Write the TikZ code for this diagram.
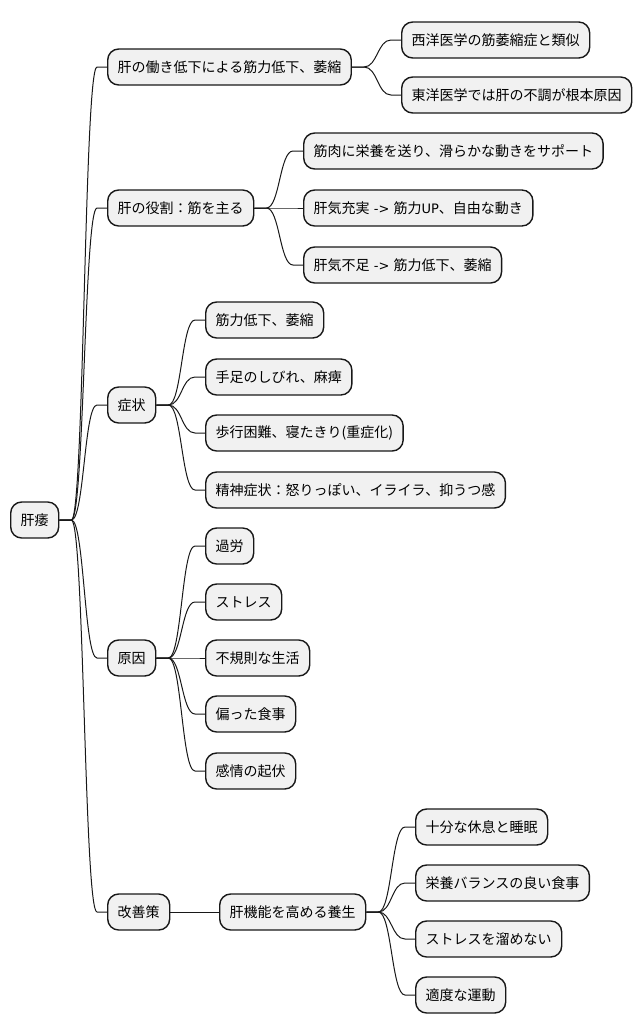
\documentclass[tikz,border=0pt]{standalone}
\usepackage{fontspec}
\setmainfont{Noto Sans CJK JP}
\newfontfamily\lat{DejaVu Sans}
\usetikzlibrary{calc}
\definecolor{boxfill}{HTML}{F1F1F1}
\definecolor{boxline}{HTML}{181818}
\tikzset{
  mm/.style={draw=boxline, fill=boxfill, line width=1.4pt, rounded corners=11pt,
    minimum height=36pt, inner xsep=10pt, inner ysep=0pt, anchor=west,
    font=\fontsize{14pt}{16pt}\selectfont, text=black},
  conn/.style={draw=boxline, line width=1pt}
}
\newcommand\mmconn[2]{%
  \draw[conn] let \p1=([xshift=12pt]#1.east), \p2=([xshift=-10pt]#2.west) in
    (#1.east) -- (\p1) .. controls ({0.5*\x1+0.5*\x2},\y1) and ({0.5*\x1+0.5*\x2},\y2) .. (\p2) -- (#2.west);}
\begin{document}
\begin{tikzpicture}[x=1pt,y=-1pt]
\useasboundingbox (0,0) rectangle (642,1034);
\node[mm] (root) at (10,520) {肝痿};
\node[mm] (a1) at (107,67) {肝の働き低下による筋力低下、萎縮};
\node[mm] (a1a) at (401,40) {西洋医学の筋萎縮症と類似};
\node[mm] (a1b) at (401,95) {東洋医学では肝の不調が根本原因};
\node[mm] (a2) at (107,208) {肝の役割：筋を主る};
\node[mm] (a2a) at (303,151) {筋肉に栄養を送り、滑らかな動きをサポート};
\node[mm] (a2b) at (303,208) {肝気充実{\lat\fontsize{13pt}{16pt}\selectfont{} -> }筋力{\lat\fontsize{13pt}{16pt}\selectfont UP}、自由な動き};
\node[mm] (a2c) at (303,265) {肝気不足{\lat\fontsize{13pt}{16pt}\selectfont{} -> }筋力低下、萎縮};
\node[mm] (a3) at (107,405) {症状};
\node[mm] (a3a) at (205,320) {筋力低下、萎縮};
\node[mm] (a3b) at (205,377) {手足のしびれ、麻痺};
\node[mm] (a3c) at (205,433) {歩行困難、寝たきり(重症化)};
\node[mm] (a3d) at (205,490) {精神症状：怒りっぽい、イライラ、抑うつ感};
\node[mm] (a4) at (107,658) {原因};
\node[mm] (a4a) at (205,546) {過労};
\node[mm] (a4b) at (205,602) {ストレス};
\node[mm] (a4c) at (205,658) {不規則な生活};
\node[mm] (a4d) at (205,714) {偏った食事};
\node[mm] (a4e) at (205,771) {感情の起伏};
\node[mm] (a5) at (107,912) {改善策};
\node[mm] (a5a) at (219,912) {肝機能を高める養生};
\node[mm] (b1) at (415,827) {十分な休息と睡眠};
\node[mm] (b2) at (415,883) {栄養バランスの良い食事};
\node[mm] (b3) at (415,939) {ストレスを溜めない};
\node[mm] (b4) at (415,995) {適度な運動};
\foreach \c in {a1,a2,a3,a4,a5} {\mmconn{root}{\c}}
\foreach \c in {a1a,a1b} {\mmconn{a1}{\c}}
\foreach \c in {a2a,a2b,a2c} {\mmconn{a2}{\c}}
\foreach \c in {a3a,a3b,a3c,a3d} {\mmconn{a3}{\c}}
\foreach \c in {a4a,a4b,a4c,a4d,a4e} {\mmconn{a4}{\c}}
\mmconn{a5}{a5a}
\foreach \c in {b1,b2,b3,b4} {\mmconn{a5a}{\c}}
\end{tikzpicture}
\end{document}
